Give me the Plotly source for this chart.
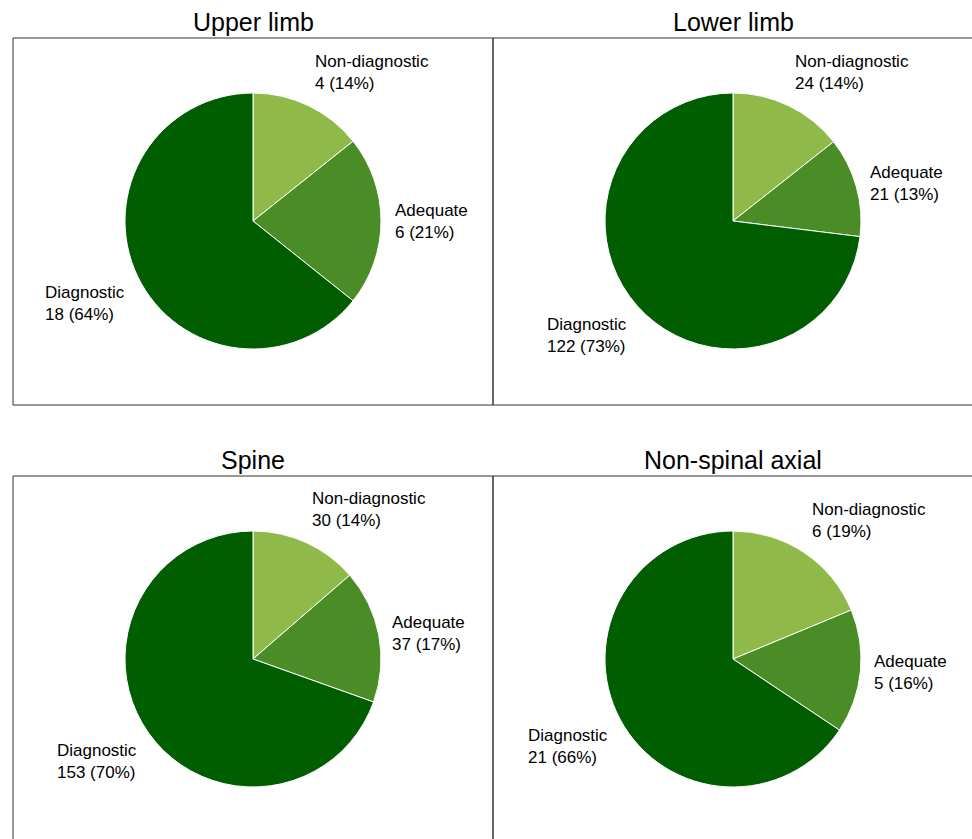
import math
import plotly.graph_objects as go

W, H = 972, 839

titles = ["Upper limb", "Lower limb", "Spine", "Non-spinal axial"]
categories = ["Non-diagnostic", "Adequate", "Diagnostic"]
upper_limb = [4, 6, 18]
lower_limb = [24, 21, 122]
spine = [30, 37, 153]
non_spinal_axial = [6, 5, 21]
series = [upper_limb, lower_limb, spine, non_spinal_axial]
colors = ["#8FB949", "#4A8C26", "#005E00"]

# layout (pixels)
centers = [(253, 221), (733, 221), (253, 659), (733, 659)]
R = 128
boxes = [(13, 38, 493, 405), (493, 38, 985, 405), (13, 476, 493, 850), (493, 476, 985, 850)]

def px(x):
    return x / W

def py(y):
    return 1 - y / H

fig = go.Figure()
annotations = []
shapes = []

for title, vals, (cx, cy), box in zip(titles, series, centers, boxes):
    fig.add_trace(go.Pie(
        labels=categories, values=vals, sort=False, direction="clockwise", rotation=0,
        marker=dict(colors=colors, line=dict(color="white", width=1)),
        textinfo="none", hoverinfo="label+value+percent", showlegend=False,
        domain=dict(x=[px(cx - R), px(cx + R)], y=[py(cy + R), py(cy - R)]),
    ))
    total = sum(vals)
    cum = 0
    for cat, v in zip(categories, vals):
        mid = (cum + v / 2) / total * 2 * math.pi
        cum += v
        s, c = math.sin(mid), math.cos(mid)
        ax = cx + 1.1 * R * s
        ay = cy - 1.1 * R * c
        xanchor = "left" if s > 0 else "right"
        if c > 0.35:
            yanchor = "bottom"
        elif c < -0.35:
            yanchor = "top"
        else:
            yanchor = "middle"
        pct = round(100 * v / total)
        annotations.append(dict(
            x=px(ax), y=py(ay), xref="paper", yref="paper", showarrow=False,
            text=f"{cat}<br>{v} ({pct}%)", align="left",
            xanchor=xanchor, yanchor=yanchor, borderpad=0,
            font=dict(family="Liberation Sans, Arial, sans-serif", size=17, color="black"),
        ))
    annotations.append(dict(
        x=px(cx), y=py(cy - 199), xref="paper", yref="paper", showarrow=False,
        text=title, xanchor="center", yanchor="middle",
        font=dict(family="Liberation Sans, Arial, sans-serif", size=25, color="black"),
    ))
    x0, y0, x1, y1 = box
    shapes.append(dict(type="rect", xref="paper", yref="paper",
                       x0=px(x0), x1=px(x1), y0=py(y1), y1=py(y0),
                       line=dict(color="#333333", width=1), fillcolor="rgba(0,0,0,0)"))

fig.update_layout(
    width=W, height=H, margin=dict(l=0, r=0, t=0, b=0),
    paper_bgcolor="white", plot_bgcolor="white",
    annotations=annotations, shapes=shapes,
)
fig.write_html("out.html")
